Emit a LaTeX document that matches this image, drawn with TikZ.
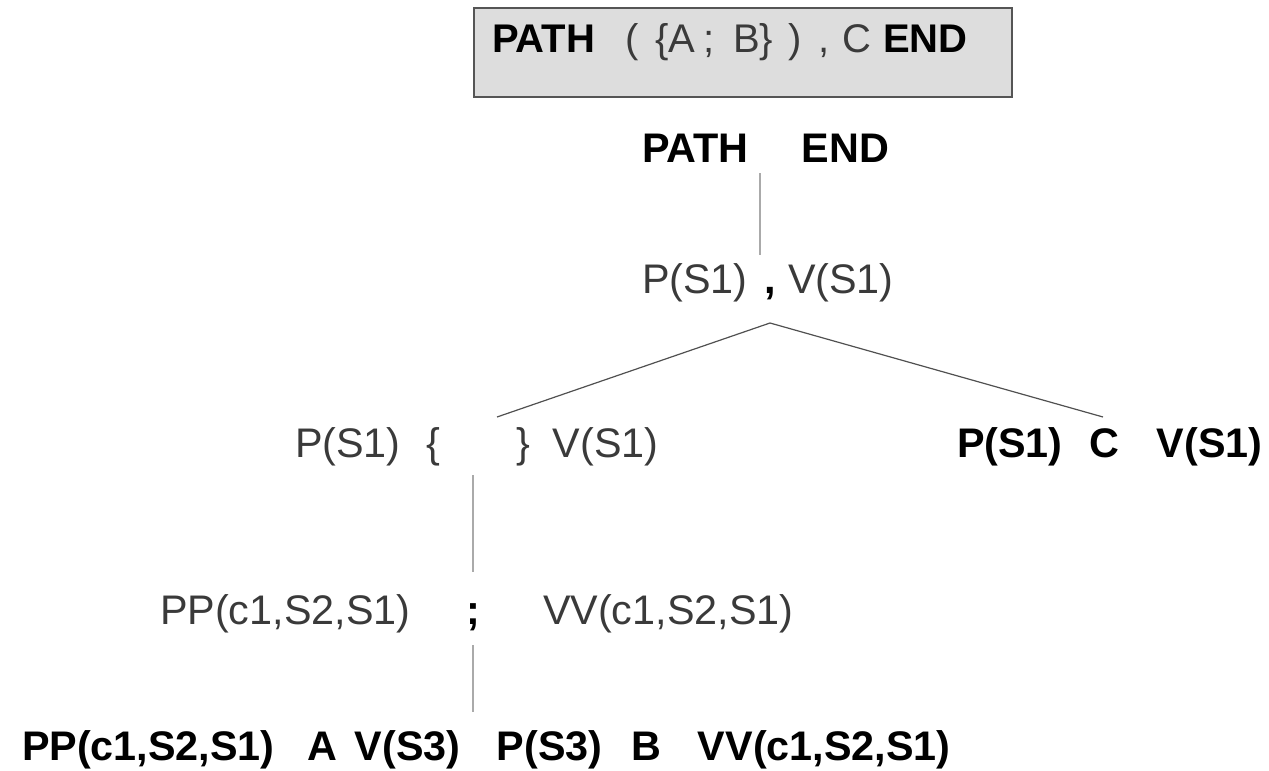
\documentclass[tikz,border=0pt]{standalone}
\usepackage{fontspec}
\setmainfont{Liberation Sans}
\definecolor{txtgray}{HTML}{3A3A3A}
\definecolor{boxfill}{HTML}{DDDDDD}
\definecolor{boxline}{HTML}{555555}
\definecolor{lightline}{HTML}{AAAAAA}
\definecolor{darkline}{HTML}{505050}
\newlength\upx \setlength\upx{0.75pt}
\newcommand\putat[2]{\makebox[0pt][l]{\hspace*{#1\upx}#2}}
\newcommand\bk[1]{\textcolor{black}{\bfseries #1}}
\begin{document}
\begin{tikzpicture}[x=0.75pt,y=-0.75pt,
  every node/.style={inner sep=0pt,outer sep=0pt,anchor=base west,
    font=\fontsize{31}{37}\selectfont},
  plain/.style={text=txtgray},
  strong/.style={text=black,font=\fontsize{31}{37}\selectfont\bfseries},
  frame/.style={draw=boxline,fill=boxfill,line width=1.1pt,anchor=north west,
    minimum width=403.5pt,minimum height=66.75pt},
  vline/.style={draw=lightline,line width=1.1pt},
  dline/.style={draw=darkline,line width=0.9pt}]
\useasboundingbox (0,0) rectangle (1269,770);
% title box
\node[frame] (box) at (474,8) {};
\node[plain,font=\fontsize{30}{36}\selectfont] (title) at (492,53)
  {\putat{0}{\bk{PATH}}\putat{133}{(}\putat{163}{\{A}\putat{211}{;}\putat{241}{B\}}\putat{296}{)}\putat{326}{,}\putat{350}{C}\putat{391}{\bk{END}}\hspace*{476\upx}};
% level 1
\node[strong] (top) at (642,162) {\putat{0}{PATH}\putat{160}{END}\hspace*{246\upx}};
% level 2
\node[plain] (mid) at (642,293) {\putat{0}{P(S1)}\putat{122}{\bk{,}}\putat{146}{V(S1)}\hspace*{253\upx}};
% level 3
\node[plain] (left) at (295,457) {\putat{0}{P(S1)}\putat{132}{\{}\putat{222}{\}}\putat{258}{V(S1)}\hspace*{365\upx}};
\node[strong] (right) at (957,457) {\putat{0}{P(S1)}\putat{133}{C}\putat{200}{V(S1)}\hspace*{306\upx}};
% level 4
\node[plain] (pp) at (160,624) {PP(c1,S2,S1)};
\node[strong] (semi) at (466,624) {;};
\node[plain] (vv) at (543,624) {VV(c1,S2,S1)};
% level 5
\node[strong] (bottom) at (22,760) {\putat{0}{PP(c1,S2,S1)}\putat{286}{A}\putat{333}{V(S3)}\putat{475}{P(S3)}\putat{610}{B}\putat{676}{VV(c1,S2,S1)}\hspace*{931\upx}};
% connector end points
\coordinate (topfoot) at (760,173);
\coordinate (midhead) at (760,255);
\coordinate (apex) at (770,323);
\coordinate (lend) at (497,417);
\coordinate (rend) at (1103,417);
\coordinate (lfoot) at (473,475);
\coordinate (semihead) at (473,572);
\coordinate (semifoot) at (473,645);
\coordinate (bothead) at (473,712);
\draw[vline] (topfoot) -- (midhead);
\draw[dline] (apex) -- (lend);
\draw[dline] (apex) -- (rend);
\draw[vline] (lfoot) -- (semihead);
\draw[vline] (semifoot) -- (bothead);
\end{tikzpicture}
\end{document}
